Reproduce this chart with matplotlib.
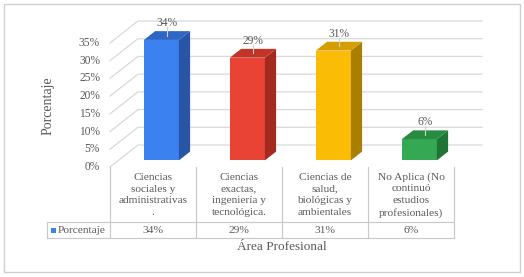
import matplotlib
matplotlib.use("Agg")
import matplotlib.pyplot as plt
from matplotlib.patches import Polygon, Rectangle

categories = ["Ciencias\nsociales y\nadministrativas\n.",
              "Ciencias\nexactas,\ningeniería y\ntecnológica.",
              "Ciencias de\nsalud,\nbiológicas y\nambientales",
              "No Aplica (No\ncontinuó\nestudios\nprofesionales)"]
values = [34, 29, 31, 6]
value_labels = ["34%", "29%", "31%", "6%"]
yticks = [0, 5, 10, 15, 20, 25, 30, 35]
series_name = "Porcentaje"
y_title = "Porcentaje"
x_title = "Área Profesional"

front_colors = ["#3B82F0", "#E94335", "#FBBC05", "#34A853"]
side_colors = ["#2A55A6", "#A42A20", "#A87F00", "#1F7535"]
top_colors = ["#2F66C6", "#C33428", "#D59E00", "#278C42"]

W, H = 524, 277
fig = plt.figure(figsize=(W / 100, H / 100), dpi=100)
ax = fig.add_axes([0, 0, 1, 1])
ax.axis("off")

# mapping: category units (86 px), percent units (3.543 px)
CAT_PX = 86.0
PCT_PX = 3.543
X0_PX = 110.0   # front-left of plot
Y0_PX = 167.0   # 0% front line (from top)
ax.set_xlim(-X0_PX / CAT_PX, (W - X0_PX) / CAT_PX)
ax.set_ylim((Y0_PX - H) / PCT_PX, Y0_PX / PCT_PX)

def py(p):  # pixel-from-top to data y
    return (Y0_PX - p) / PCT_PX

def px(p):
    return (p - X0_PX) / CAT_PX

DX = 28 / CAT_PX
DY = 22 / PCT_PX
n = len(values)

serif = "Liberation Serif"
grid_c = "#D9D9D9"
txt_c = "#595959"

# outer border
ax.add_patch(Rectangle((px(3.5), py(272)), px(520) - px(3.5), py(3.5) - py(272),
                       fill=False, ec="#D0D0D0", lw=1.0, zorder=0))

# gridlines (side wall + back wall)
for v in yticks:
    ax.plot([0, DX, n + DX], [v, v + DY, v + DY], color=grid_c, lw=0.9, zorder=1)
    ax.text(px(100), v, f"{v}%", ha="right", va="center", fontsize=8.3,
            family=serif, color=txt_c)

# bars
f0, fd = 0.3, 0.4
bw = 35 / CAT_PX
for i, v in enumerate(values):
    xc = i + 0.5 + f0 * DX
    x1, x2 = xc - bw / 2, xc + bw / 2
    y0 = f0 * DY
    y1 = v + f0 * DY
    ddx, ddy = fd * DX, fd * DY
    ax.add_patch(Polygon([(x1, y0), (x2, y0), (x2, y1), (x1, y1)],
                         closed=True, fc=front_colors[i], ec="none", zorder=3))
    ax.add_patch(Polygon([(x2, y0), (x2 + ddx, y0 + ddy), (x2 + ddx, y1 + ddy), (x2, y1)],
                         closed=True, fc=side_colors[i], ec="none", zorder=3))
    ax.add_patch(Polygon([(x1, y1), (x2, y1), (x2 + ddx, y1 + ddy), (x1 + ddx, y1 + ddy)],
                         closed=True, fc=top_colors[i], ec="none", zorder=3))
    lx = xc + ddx / 2
    ly_top = y1 + ddy / 2
    ax.plot([lx, lx], [ly_top, y1 + ddy + 1.2], color="#D0D0D0", lw=0.8, zorder=4)
    ax.annotate(value_labels[i], (lx, y1 + ddy), xytext=(0, 1.5), textcoords="offset points",
                ha="center", va="bottom", fontsize=8.3, family=serif, color=txt_c, zorder=5)

# data table
tc = "#C8C8C8"
for i in range(n + 1):
    ax.plot([i, i], [0, py(238)], color=tc, lw=0.8, zorder=1)
ax.plot([px(47), n], [py(222), py(222)], color=tc, lw=0.8)
ax.plot([px(47), n], [py(238), py(238)], color=tc, lw=0.8)
ax.plot([px(47), px(47)], [py(222), py(238)], color=tc, lw=0.8)

for i, c in enumerate(categories):
    ax.text(i + 0.5, py(195), c, ha="center", va="center", fontsize=8.2,
            family=serif, color=txt_c, linespacing=1.36)
    ax.text(i + 0.5, py(231), value_labels[i], ha="center", va="center",
            fontsize=8.2, family=serif, color=txt_c)

ax.add_patch(Rectangle((px(51), py(233)), px(56) - px(51), py(228) - py(233),
                       fc=front_colors[0], ec="none"))
ax.text(px(58), py(231), series_name, ha="left", va="center", fontsize=8.2,
        family=serif, color=txt_c)

ax.text(px(48), py(106), y_title, ha="center", va="center", rotation=90,
        fontsize=10, family=serif, color=txt_c)
ax.text(px(282), py(247.5), x_title, ha="center", va="center",
        fontsize=9.5, family=serif, color=txt_c)

fig.savefig("out.png", dpi=100)
